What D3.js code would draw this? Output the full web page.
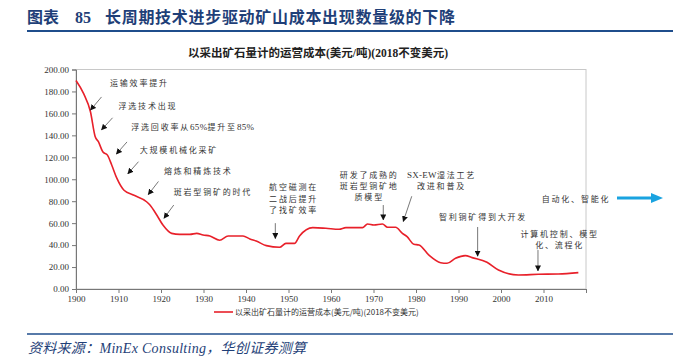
<!DOCTYPE html>
<html>
<head>
<meta charset="utf-8">
<script src="https://cdn.jsdelivr.net/npm/d3@7"></script>
<style>
  body { margin: 0; background: #fff; }
  svg text { font-family: "Liberation Serif", "Noto Sans CJK SC", serif; }
  .cjk { font-family: "Noto Sans CJK SC", sans-serif; }
</style>
</head>
<body>
<div id="chart"></div>
<script>
// chart values
const years = [1900, 1901.8, 1903.4, 1904.5, 1905.3, 1906.3, 1907.4, 1908.4, 1909.6, 1911.3, 1913.5, 1916.6, 1917.4,
  1919, 1920.5, 1922.5, 1924.4, 1926.8, 1928.4, 1929.9, 1931.5, 1933.8, 1935.8, 1939.3, 1940.9, 1942.4, 1944.8,
  1947.9, 1949.4, 1951.4, 1952.6, 1955.7, 1958.8, 1961.9, 1963.5, 1967.4, 1968.6, 1970.1, 1972.1, 1973.3, 1975.2,
  1976.8, 1977.9, 1979.5, 1980.7, 1983, 1985.8, 1987.3, 1989.3, 1991.6, 1993.2, 1996.7, 1999.4, 2004.1, 2008.8,
  2013.5, 2018.2];
const costs = [190, 178, 161.5, 139, 134, 125, 122, 113, 101, 90, 85.6, 79.5, 76.5,
  67.4, 58, 50.7, 49.8, 49.8, 50.7, 49.2, 48.3, 44.4, 48.3, 48.3, 45.6, 43.7, 39.5,
  38, 41.6, 41.6, 48.3, 55.9, 55.3, 54.4, 55.9, 55.9, 59.2, 58.3, 59.2, 56.2, 56.2,
  50.7, 47.7, 40.7, 40.1, 31, 24, 23.4, 28, 30.4, 28.6, 24.3, 17.3, 12.8, 13.4,
  13.7, 14.9];
const xTicks = [1900, 1910, 1920, 1930, 1940, 1950, 1960, 1970, 1980, 1990, 2000, 2010];
const yTicks = [0, 20, 40, 60, 80, 100, 120, 140, 160, 180, 200];
const seriesName = "以采出矿石量计的运营成本(美元/吨)(2018不变美元)";

// annotations: text lines, where the text sits and where its arrow points (year, value)
const notes = [
  { lines: ["运输效率提升"], tx: 1908, ty: 185, from: [1906, 175], to: [1903.4, 163] },
  { lines: ["浮选技术出现"], tx: 1910, ty: 164, from: [1908.6, 156], to: [1906, 145] },
  { lines: ["浮选回收率从65%提升至85%"], tx: 1913, ty: 145, from: [1912, 134], to: [1909.5, 123] },
  { lines: ["大规模机械化采矿"], tx: 1915, ty: 124, from: [1914.7, 116], to: [1912.2, 105] },
  { lines: ["熔炼和精炼技术"], tx: 1920.7, ty: 105, from: [1919.4, 98], to: [1917, 86] },
  { lines: ["斑岩型铜矿的时代"], tx: 1923, ty: 86, from: [1923, 76.5], to: [1920.7, 64.5] },
  { lines: ["航空磁测在", "二战后提升", "了找矿效率"], tx: 1951.2, ty: 90, center: true, from: [1946.9, 60], to: [1946.9, 46] },
  { lines: ["研发了成熟的", "斑岩型铜矿地", "质模型"], tx: 1969, ty: 101.5, center: true, from: [1972.3, 76.5], to: [1972.3, 63] },
  { lines: ["SX-EW湿法工艺", "改进和普及"], tx: 1986, ty: 101.5, center: true, from: [1979, 84.5], to: [1977, 61.5] },
  { lines: ["智利铜矿得到大开发"], tx: 1985.4, ty: 63, from: [1994.5, 56.5], to: [1994.5, 30] },
  { lines: ["计算机控制、模型", "化、流程化"], tx: 2013.8, ty: 47.8, center: true, from: [2008.7, 35.5], to: [2008.7, 16.5] }
];

const width = 673, height = 363;
const margin = { top: 69.5, right: 87, bottom: 74, left: 76 };

const svg = d3.select("#chart")
  .append("svg")
  .attr("width", width)
  .attr("height", height);

const defs = svg.append("defs");
defs.append("marker")
  .attr("id", "head")
  .attr("viewBox", "0 0 10 10")
  .attr("refX", 9).attr("refY", 5)
  .attr("markerWidth", 6).attr("markerHeight", 6)
  .attr("markerUnits", "userSpaceOnUse")
  .attr("orient", "auto")
  .append("path")
  .attr("d", "M0,0L10,5L0,10Z")
  .attr("fill", "#111");

// header
const header = svg.append("g")
  .attr("font-size", 16).attr("font-weight", "bold")
  .attr("fill", "#1F3F78");
header.append("text").attr("class", "cjk").attr("x", 27).attr("y", 23).text("图表");
header.append("text").attr("x", 75).attr("y", 23).attr("font-family", "Liberation Serif").text("85");
header.append("text").attr("class", "cjk").attr("x", 105).attr("y", 23)
  .attr("textLength", 350).attr("lengthAdjust", "spacing")
  .text("长周期技术进步驱动矿山成本出现数量级的下降");
svg.append("line")
  .attr("x1", 27).attr("x2", width).attr("y1", 31).attr("y2", 31)
  .attr("stroke", "#1F4E8C").attr("stroke-width", 2);

// footer
svg.append("line")
  .attr("x1", 27).attr("x2", width).attr("y1", 334).attr("y2", 334)
  .attr("stroke", "#1F4E8C").attr("stroke-width", 1.5);
svg.append("text")
  .attr("x", 28).attr("y", 353)
  .attr("font-size", 14).attr("font-style", "italic")
  .attr("fill", "#1F3F78")
  .attr("textLength", 278).attr("lengthAdjust", "spacing")
  .text("资料来源：MinEx Consulting，华创证券测算");

// chart title
svg.append("text")
  .attr("x", 318).attr("y", 57)
  .attr("text-anchor", "middle")
  .attr("font-size", 11.5).attr("font-weight", "bold")
  .attr("fill", "#222")
  .text(seriesName);

const x = d3.scaleLinear()
  .domain([1900, 2020])
  .range([margin.left, width - margin.right]);

const y = d3.scaleLinear()
  .domain([0, 200])
  .range([height - margin.bottom, margin.top]);

// plot frame
svg.append("rect")
  .attr("x", x(1900)).attr("y", y(200))
  .attr("width", x(2020) - x(1900)).attr("height", y(0) - y(200))
  .attr("fill", "none").attr("stroke", "#c8c8c8");

const yAxis = svg.append("g")
  .attr("transform", `translate(${margin.left}, 0)`)
  .call(d3.axisLeft(y).tickValues(yTicks).tickFormat(d3.format(".2f")).tickSize(4));
yAxis.selectAll("text").attr("font-size", 9).attr("fill", "#333").attr("font-family", "Liberation Serif");
yAxis.selectAll("line, path").attr("stroke", "#777");

const xAxis = svg.append("g")
  .attr("transform", `translate(0, ${y(0)})`)
  .call(d3.axisBottom(x).tickValues(xTicks.concat([2020])).tickFormat(d => d === 2020 ? "" : d).tickSize(4));
xAxis.selectAll("text").attr("font-size", 9).attr("fill", "#333").attr("font-family", "Liberation Serif");
xAxis.selectAll("line, path").attr("stroke", "#777");

// cost line
const line = d3.line()
  .x((d, i) => x(years[i]))
  .y(d => y(d))
  .curve(d3.curveMonotoneX);

svg.append("path")
  .datum(costs)
  .attr("d", line)
  .attr("fill", "none")
  .attr("stroke", "#E8202A")
  .attr("stroke-width", 1.6);

// split a string into CJK and latin runs so latin parts are not spread out
function runs(s) {
  return s.match(/[A-Za-z0-9%\-]+|[^A-Za-z0-9%\-]+/g);
}

// annotations
notes.forEach(n => {
  const t = svg.append("text")
    .attr("class", "cjk")
    .attr("font-size", 8)
    .attr("fill", "#333")
    .attr("text-anchor", n.center ? "middle" : "start");
  n.lines.forEach((s, i) => {
    const ln = t.append("tspan")
      .attr("x", x(n.tx))
      .attr("y", y(n.ty) + i * 11.4);
    runs(s).forEach(r => {
      const latin = /^[A-Za-z0-9%\-]+$/.test(r);
      ln.append("tspan")
        .attr("letter-spacing", latin ? 0.3 : 1.8)
        .attr("font-family", latin ? "Liberation Serif" : null)
        .attr("font-size", latin ? 9 : null)
        .text(r);
    });
  });
  svg.append("line")
    .attr("x1", x(n.from[0])).attr("y1", y(n.from[1]))
    .attr("x2", x(n.to[0])).attr("y2", y(n.to[1]))
    .attr("stroke", "#555").attr("stroke-width", 0.8)
    .attr("marker-end", "url(#head)");
});

// automation note with blue arrow
svg.append("text")
  .attr("class", "cjk")
  .attr("x", 576).attr("y", 201.5)
  .attr("text-anchor", "middle")
  .attr("font-size", 8).attr("letter-spacing", 1.8).attr("fill", "#333")
  .text("自动化、智能化");
svg.append("line")
  .attr("x1", 617).attr("x2", 652).attr("y1", 198).attr("y2", 198)
  .attr("stroke", "#1AA3E0").attr("stroke-width", 3);
svg.append("path")
  .attr("d", "M651,193L663,198L651,203Z")
  .attr("fill", "#1AA3E0");

// legend
svg.append("line")
  .attr("x1", 214).attr("x2", 233).attr("y1", 312).attr("y2", 312)
  .attr("stroke", "#E8202A").attr("stroke-width", 1.6);
svg.append("text")
  .attr("class", "cjk")
  .attr("x", 235).attr("y", 315)
  .attr("font-size", 8).attr("fill", "#333")
  .text(seriesName);
</script>
</body>
</html>
